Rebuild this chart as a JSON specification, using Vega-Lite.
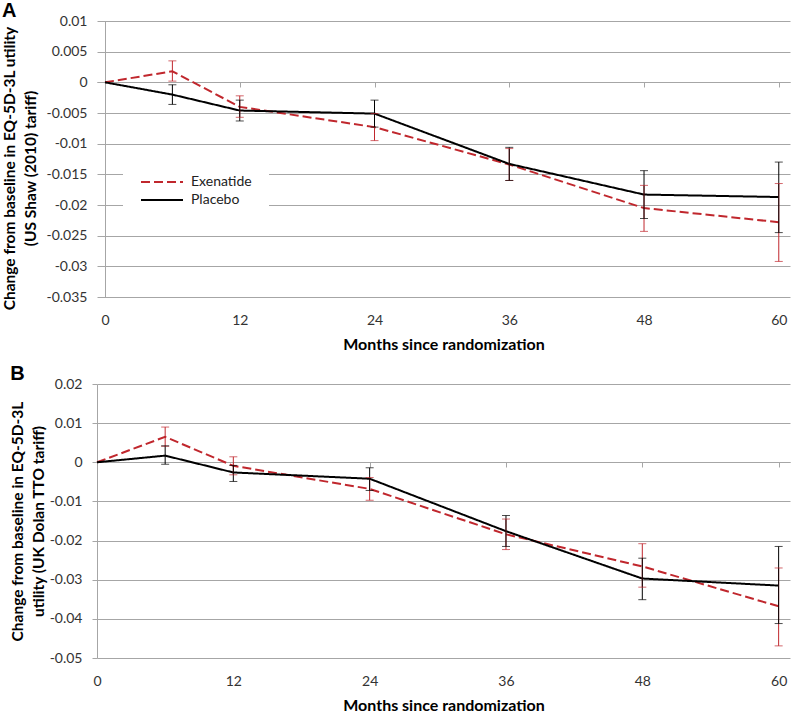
{
  "$schema": "https://vega.github.io/schema/vega-lite/v6.json",
  "background": "white",
  "padding": {"top": 1, "left": 2, "right": 3, "bottom": 0},
  "columns": 1,
  "align": "all",
  "spacing": 12,
  "datasets": {
    "a": [
      {"month": 0, "group": "Exenatide", "mean": 0, "lo": null, "hi": null},
      {"month": 6, "group": "Exenatide", "mean": 0.0018, "lo": 0.0002, "hi": 0.0035},
      {"month": 12, "group": "Exenatide", "mean": -0.0040, "lo": -0.0057, "hi": -0.0022},
      {"month": 24, "group": "Exenatide", "mean": -0.0073, "lo": -0.0095, "hi": -0.0051},
      {"month": 36, "group": "Exenatide", "mean": -0.0134, "lo": -0.0160, "hi": -0.0108},
      {"month": 48, "group": "Exenatide", "mean": -0.0205, "lo": -0.0243, "hi": -0.0168},
      {"month": 60, "group": "Exenatide", "mean": -0.0228, "lo": -0.0292, "hi": -0.0165},
      {"month": 0, "group": "Placebo", "mean": 0, "lo": null, "hi": null},
      {"month": 6, "group": "Placebo", "mean": -0.0020, "lo": -0.0036, "hi": -0.0004},
      {"month": 12, "group": "Placebo", "mean": -0.0046, "lo": -0.0063, "hi": -0.0029},
      {"month": 24, "group": "Placebo", "mean": -0.0051, "lo": -0.0073, "hi": -0.0029},
      {"month": 36, "group": "Placebo", "mean": -0.0133, "lo": -0.0160, "hi": -0.0106},
      {"month": 48, "group": "Placebo", "mean": -0.0183, "lo": -0.0222, "hi": -0.0144},
      {"month": 60, "group": "Placebo", "mean": -0.0187, "lo": -0.0245, "hi": -0.0130}
    ],
    "b": [
      {"month": 0, "group": "Exenatide", "mean": 0, "lo": null, "hi": null},
      {"month": 6, "group": "Exenatide", "mean": 0.0065, "lo": 0.0041, "hi": 0.0090},
      {"month": 12, "group": "Exenatide", "mean": -0.0009, "lo": -0.0032, "hi": 0.0014},
      {"month": 24, "group": "Exenatide", "mean": -0.0068, "lo": -0.0097, "hi": -0.0039},
      {"month": 36, "group": "Exenatide", "mean": -0.0184, "lo": -0.0223, "hi": -0.0145},
      {"month": 48, "group": "Exenatide", "mean": -0.0266, "lo": -0.0319, "hi": -0.0208},
      {"month": 60, "group": "Exenatide", "mean": -0.0368, "lo": -0.0469, "hi": -0.0270},
      {"month": 0, "group": "Placebo", "mean": 0, "lo": null, "hi": null},
      {"month": 6, "group": "Placebo", "mean": 0.0017, "lo": -0.0005, "hi": 0.0042},
      {"month": 12, "group": "Placebo", "mean": -0.0026, "lo": -0.0049, "hi": -0.0008},
      {"month": 24, "group": "Placebo", "mean": -0.0042, "lo": -0.0072, "hi": -0.0014},
      {"month": 36, "group": "Placebo", "mean": -0.0176, "lo": -0.0215, "hi": -0.0136},
      {"month": 48, "group": "Placebo", "mean": -0.0297, "lo": -0.0351, "hi": -0.0245},
      {"month": 60, "group": "Placebo", "mean": -0.0315, "lo": -0.0412, "hi": -0.0215}
    ]
  },
  "config": {
    "view": {"stroke": null},
    "axis": {
      "labelFont": "Lato", "labelFontSize": 14, "labelColor": "#333333",
      "titleFont": "Lato", "titleFontSize": 15.5, "titleFontWeight": "bold", "titleColor": "#000000",
      "domainColor": "#A6A6A6", "tickColor": "#A6A6A6", "gridColor": "#A6A6A6", "gridWidth": 1
    },
    "legend": {"labelFont": "Lato", "labelFontSize": 14, "labelColor": "#222222"},
    "title": {"font": "Liberation Sans", "fontSize": 20, "fontWeight": "bold", "color": "#000000"}
  },
  "concat": [
    {
      "width": 693,
      "height": 276,
      "title": {"text": "A", "anchor": "start", "frame": "bounds", "offset": -7},
      "data": {"name": "a"},
      "resolve": {"axis": {"x": "independent"}},
      "encoding": {
        "x": {"field": "month", "type": "quantitative", "scale": {"domain": [-0.7124, 61], "nice": false, "zero": false}},
        "color": {"field": "group", "type": "nominal", "scale": {"domain": ["Exenatide", "Placebo"], "range": ["#C0272D", "#000000"]}}
      },
      "layer": [
        {
          "mark": {"type": "line", "strokeWidth": 2},
          "encoding": {
            "x": {"field": "month", "type": "quantitative", "axis": {"orient": "bottom", "values": [0, 12, 24, 36, 48, 60], "tickCount": 20, "grid": false, "ticks": false, "domain": false, "labelPadding": 16, "titlePadding": 9, "titleFontSize": 16, "labelOverlap": false, "labelFlush": false, "title": "Months since randomization"}},
            "y": {"field": "mean", "type": "quantitative", "scale": {"domain": [-0.035, 0.01], "nice": false},
              "axis": {"values": [-0.035, -0.03, -0.025, -0.02, -0.015, -0.01, -0.005, 0, 0.005, 0.01], "tickCount": 20, "offset": -8, "labelExpr": "'' + datum.value", "labelOverlap": false, "labelFlush": false, "labelBound": false, "grid": true, "tickSize": 5, "labelPadding": 13, "titlePadding": 8, "titleLineHeight": 21, "titleY": 147,
                "title": ["Change from baseline in EQ-5D-3L utility", "(US Shaw (2010) tariff)"]}},
            "strokeDash": {"field": "group", "type": "nominal", "scale": {"domain": ["Exenatide", "Placebo"], "range": [[9, 4], [1, 0]]}},
            "color": {"field": "group", "type": "nominal", "legend": {"title": null, "orient": "none", "legendX": 26, "legendY": 133, "fillColor": "white", "padding": 17, "symbolType": "M-1,0H3.2", "symbolSize": 400, "symbolStrokeWidth": 2, "rowPadding": 0, "labelOffset": 29}}
          }
        },
        {
          "transform": [{"filter": "isValid(datum.lo)"}],
          "mark": {"type": "rule", "strokeWidth": 1},
          "encoding": {
            "x": {"field": "month", "type": "quantitative", "axis": {"orient": "bottom", "offset": -215, "values": [0, 12, 24, 36, 48, 60], "tickCount": 20, "labels": false, "ticks": true, "tickSize": 5, "domain": true, "grid": false, "title": null}},
            "y": {"field": "lo", "type": "quantitative"},
            "y2": {"field": "hi"},
            "color": {"field": "group", "type": "nominal", "legend": null}
          }
        },
        {
          "transform": [{"filter": "isValid(datum.lo)"}],
          "mark": {"type": "tick", "orient": "horizontal", "size": 8, "thickness": 1},
          "encoding": {
            "x": {"field": "month", "type": "quantitative", "axis": null},
            "y": {"field": "lo", "type": "quantitative"},
            "color": {"field": "group", "type": "nominal", "legend": null}
          }
        },
        {
          "transform": [{"filter": "isValid(datum.hi)"}],
          "mark": {"type": "tick", "orient": "horizontal", "size": 8, "thickness": 1},
          "encoding": {
            "x": {"field": "month", "type": "quantitative", "axis": null},
            "y": {"field": "hi", "type": "quantitative"},
            "color": {"field": "group", "type": "nominal", "legend": null}
          }
        }
      ]
    },
    {
      "width": 693,
      "height": 274,
      "title": {"text": "B", "anchor": "start", "frame": "bounds", "offset": -7},
      "data": {"name": "b"},
      "resolve": {"axis": {"x": "independent"}},
      "encoding": {
        "x": {"field": "month", "type": "quantitative", "scale": {"domain": [0, 61], "nice": false}},
        "color": {"field": "group", "type": "nominal", "scale": {"domain": ["Exenatide", "Placebo"], "range": ["#C0272D", "#000000"]}}
      },
      "layer": [
        {
          "mark": {"type": "line", "strokeWidth": 2},
          "encoding": {
            "x": {"field": "month", "type": "quantitative", "axis": {"orient": "bottom", "values": [0, 12, 24, 36, 48, 60], "tickCount": 20, "grid": false, "ticks": false, "domain": false, "labelPadding": 16, "titlePadding": 9, "titleFontSize": 16, "labelOverlap": false, "labelFlush": false, "title": "Months since randomization"}},
            "y": {"field": "mean", "type": "quantitative", "scale": {"domain": [-0.05, 0.02], "nice": false},
              "axis": {"values": [-0.05, -0.04, -0.03, -0.02, -0.01, 0, 0.01, 0.02], "tickCount": 20, "labelExpr": "'' + datum.value", "labelOverlap": false, "labelFlush": false, "labelBound": false, "grid": true, "tickSize": 5, "labelPadding": 10, "titlePadding": 3, "titleLineHeight": 21,
                "title": ["Change from baseline in EQ-5D-3L", "utility (UK Dolan TTO tariff)"]}},
            "strokeDash": {"field": "group", "type": "nominal", "scale": {"domain": ["Exenatide", "Placebo"], "range": [[9, 4], [1, 0]]}},
            "color": {"field": "group", "type": "nominal", "legend": {"title": null, "orient": "none", "legendX": 35, "legendY": 158, "padding": 0, "symbolType": "M-1,0H3.2", "symbolSize": 400, "symbolStrokeWidth": 2, "rowPadding": -1, "labelOffset": 29}}
          }
        },
        {
          "transform": [{"filter": "isValid(datum.lo)"}],
          "mark": {"type": "rule", "strokeWidth": 1},
          "encoding": {
            "x": {"field": "month", "type": "quantitative", "axis": {"orient": "bottom", "offset": -196, "values": [0, 12, 24, 36, 48, 60], "tickCount": 20, "labels": false, "ticks": true, "tickSize": 5, "domain": true, "grid": false, "title": null}},
            "y": {"field": "lo", "type": "quantitative"},
            "y2": {"field": "hi"},
            "color": {"field": "group", "type": "nominal", "legend": null}
          }
        },
        {
          "transform": [{"filter": "isValid(datum.lo)"}],
          "mark": {"type": "tick", "orient": "horizontal", "size": 8, "thickness": 1},
          "encoding": {
            "x": {"field": "month", "type": "quantitative", "axis": null},
            "y": {"field": "lo", "type": "quantitative"},
            "color": {"field": "group", "type": "nominal", "legend": null}
          }
        },
        {
          "transform": [{"filter": "isValid(datum.hi)"}],
          "mark": {"type": "tick", "orient": "horizontal", "size": 8, "thickness": 1},
          "encoding": {
            "x": {"field": "month", "type": "quantitative", "axis": null},
            "y": {"field": "hi", "type": "quantitative"},
            "color": {"field": "group", "type": "nominal", "legend": null}
          }
        }
      ]
    }
  ]
}
